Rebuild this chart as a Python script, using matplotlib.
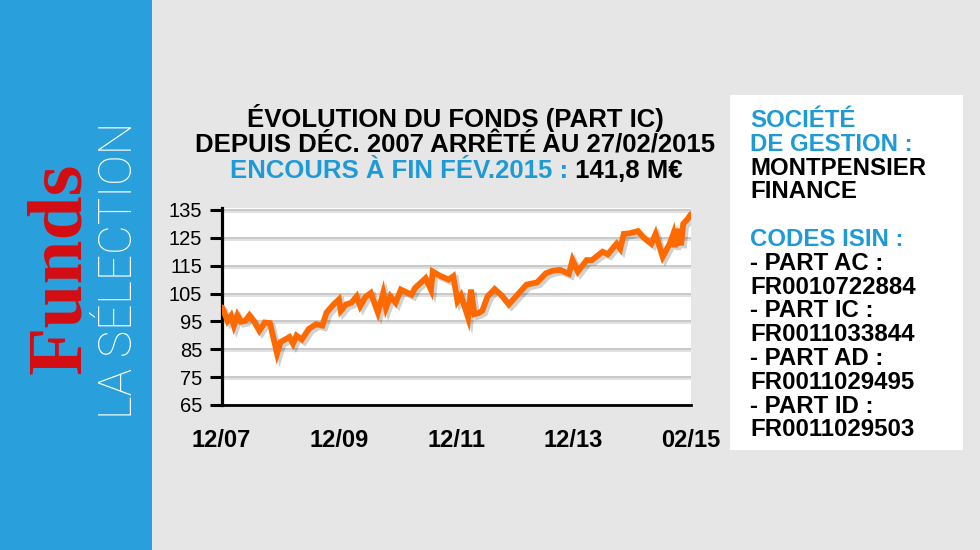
import matplotlib
matplotlib.use("Agg")
import matplotlib.pyplot as plt
import matplotlib.patheffects as pe
from matplotlib.patches import Rectangle

# ---- data ----
x_pos = [0.15, 1.28, 2.03, 2.64, 3.39, 4.14, 5.05, 5.95, 6.93, 8.06, 9.19, 10.32,
         11.83, 12.58, 14.47, 15.22, 15.98, 17.11, 18.61, 20.12, 21.48, 22.38,
         23.89, 25.02, 25.40, 26.53, 27.66, 28.79, 29.54, 30.67, 31.80, 33.31,
         34.44, 35.04, 35.95, 37.08, 38.21, 40.47, 41.22, 43.48, 44.61, 44.99,
         46.50, 48.38, 49.36, 50.26, 51.02, 52.52, 53.13, 53.88, 54.79, 55.54,
         56.67, 58.18, 59.68, 61.19, 63.07, 64.96, 67.22, 69.10, 70.61, 72.12,
         74.00, 74.76, 75.89, 77.77, 78.90, 81.16, 82.29, 84.17, 84.93, 85.68,
         86.81, 88.70, 89.83, 91.56, 92.46, 93.97, 95.48, 96.23, 96.61, 97.36,
         97.89, 98.34, 99.25, 100.0]
fund_values = [100.0, 95.2, 97.0, 93.5, 97.2, 94.9, 95.2, 97.2, 95.0, 91.7, 94.6, 94.4,
               83.5, 87.6, 89.4, 87.0, 89.9, 88.5, 92.3, 94.0, 93.5, 98.2,
               101.1, 102.9, 98.8, 101.1, 101.7, 104.0, 100.5, 103.8, 105.2, 98.2,
               105.2, 99.9, 104.0, 101.7, 106.4, 104.6, 107.0, 110.5, 106.4, 112.9,
               111.4, 110.0, 111.2, 102.3, 104.3, 96.4, 106.4, 97.6, 98.0, 98.8,
               104.0, 106.6, 104.3, 101.1, 104.6, 108.2, 109.0, 112.3, 113.2, 113.5,
               112.1, 117.0, 112.9, 117.0, 117.0, 120.0, 119.1, 122.9, 121.1, 126.4,
               126.6, 127.4, 125.2, 122.9, 126.4, 118.2, 122.9, 126.4, 121.7, 128.2,
               122.3, 130.0, 131.7, 133.5]
x_tick_pos = [0, 25, 50, 75, 100]
x_tick_labels = ["12/07", "12/09", "12/11", "12/13", "02/15"]
y_ticks = [65, 75, 85, 95, 105, 115, 125, 135]

title_lines = ["ÉVOLUTION DU FONDS (PART IC)",
               "DEPUIS DÉC. 2007 ARRÊTÉ AU 27/02/2015"]
encours_label = "ENCOURS À FIN FÉV.2015 :"
encours_value = " 141,8 M€"

side_lines = [("SOCIÉTÉ", "blue"), ("DE GESTION :", "blue"),
              ("MONTPENSIER", "black"), ("FINANCE", "black"), ("", "black"),
              ("CODES ISIN :", "blue"), ("- PART AC :", "black"),
              ("FR0010722884", "black"), ("- PART IC :", "black"),
              ("FR0011033844", "black"), ("- PART AD :", "black"),
              ("FR0011029495", "black"), ("- PART ID :", "black"),
              ("FR0011029503", "black")]

W, H = 980, 550
BG = "#e6e6e6"
BAND = "#29a0dc"
BLUE = "#1e9bd7"
ORANGE = "#ff6a00"

plt.rcParams['font.family'] = ['Liberation Sans', 'DejaVu Sans']

fig = plt.figure(figsize=(W / 100, H / 100), dpi=100, facecolor=BG)


def px(x, y):
    return x / W, 1 - y / H


# left blue band
fig.patches.append(Rectangle((0, 0), 152 / W, 1, transform=fig.transFigure,
                             facecolor=BAND, edgecolor="none", zorder=0))
fig.text(*px(62, 268), "Funds", rotation=90, ha="center", va="center",
         family=["Liberation Serif", "DejaVu Serif"], fontweight="bold",
         fontsize=57, color="#d40d12")
fig.text(*px(119, 270), "LA SÉLECTION", rotation=90, ha="center", va="center",
         family=["Roboto", "DejaVu Sans"], fontweight="light",
         fontsize=33, color="white")

# right white info box
fig.patches.append(Rectangle(px(730, 450), (963 - 730) / W, (450 - 95) / H,
                             transform=fig.transFigure, facecolor="white",
                             edgecolor="none", zorder=0))
for i, (txt, col) in enumerate(side_lines):
    if not txt:
        continue
    fig.text(*px(750, 127 + i * 23.8), txt, ha="left", va="baseline",
             fontweight="bold", fontsize=17.3,
             color=BLUE if col == "blue" else "black")

# titles
TFS = 18.5
for i, t in enumerate(title_lines):
    fig.text(*px(455, 127 + i * 25.5), t, ha="center", va="baseline",
             fontweight="bold", fontsize=TFS, color="black")
t1 = fig.text(*px(222, 178), encours_label, ha="left", va="baseline",
              fontweight="bold", fontsize=TFS, color=BLUE)
t2 = fig.text(*px(222, 178), encours_value, ha="left", va="baseline",
              fontweight="bold", fontsize=TFS, color="black")
renderer = fig.canvas.get_renderer()
w1 = t1.get_window_extent(renderer).width
w2 = t2.get_window_extent(renderer).width
start = 456 - (w1 + w2) / 2
t1.set_position(px(start, 178))
t2.set_position(px(start + w1, 178))

# chart axes
left, right, top, bottom = 221.5, 691, 208, 405
ax = fig.add_axes([left / W, (H - bottom) / H, (right - left) / W, (bottom - top) / H])
ax.set_facecolor("white")

ax.plot(x_pos, fund_values, color=ORANGE, lw=4.2, solid_joinstyle="miter",
        solid_capstyle="round", zorder=5,
        path_effects=[pe.SimpleLineShadow(offset=(2, -2), alpha=0.18, shadow_color="black"),
                      pe.Normal()])

ax.set_xlim(0, 100)
ax.set_ylim(65, 135.7)
ax.set_yticks(y_ticks)
ax.set_yticklabels([str(v) for v in y_ticks])
ax.set_xticks(x_tick_pos)
ax.set_xticklabels(x_tick_labels)
ax.set_xticks([0, 100], minor=True)

ax.yaxis.grid(True, color="#c9c9c9", lw=1.4)
for gl in ax.get_ygridlines():
    gl.set_path_effects([pe.SimpleLineShadow(offset=(0, -1.5), alpha=0.12), pe.Normal()])
ax.xaxis.grid(False)
ax.set_axisbelow(True)

for s in ["top", "right"]:
    ax.spines[s].set_visible(False)
ax.spines["left"].set_linewidth(2.3)
ax.spines["bottom"].set_linewidth(2.0)

ax.tick_params(axis="y", which="major", length=9, width=2.2, direction="out",
               pad=5, labelsize=14.5, colors="black")
ax.tick_params(axis="x", which="major", length=0, pad=17, labelsize=17)
ax.tick_params(axis="x", which="minor", length=7, width=2.2, direction="out")
for lab in ax.get_xticklabels():
    lab.set_fontweight("bold")

fig.savefig("out.png", dpi=100, facecolor=BG)
